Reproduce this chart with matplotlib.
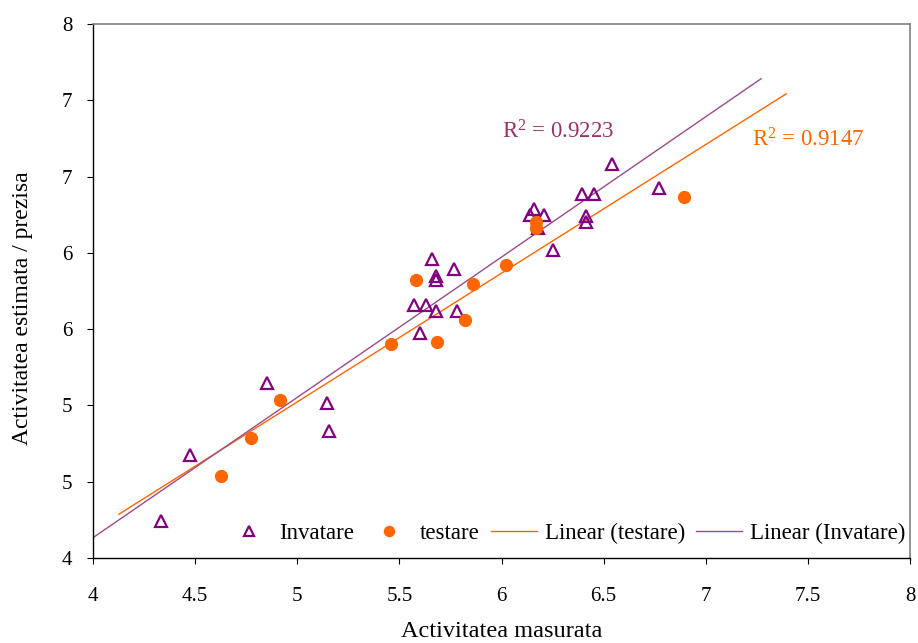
import matplotlib
matplotlib.use("Agg")
import matplotlib.pyplot as plt
import numpy as np
from matplotlib.ticker import FixedLocator, FuncFormatter

plt.rcParams['font.family'] = ['Liberation Serif', 'DejaVu Serif']
plt.rcParams['mathtext.fontset'] = 'custom'
plt.rcParams['mathtext.rm'] = 'Liberation Serif'
plt.rcParams['mathtext.it'] = 'Liberation Serif:italic'

# Invatare (training set): measured vs estimated
inv_x = [4.333, 4.475, 4.852, 5.146, 5.155, 5.572, 5.601, 5.630, 5.660, 5.679,
         5.679, 5.679, 5.767, 5.782, 6.140, 6.160, 6.179, 6.209, 6.252, 6.394,
         6.414, 6.414, 6.453, 6.541, 6.771]
inv_y = [4.277, 4.770, 5.308, 5.159, 4.950, 5.892, 5.682, 5.892, 6.236, 6.116,
         6.079, 5.847, 6.161, 5.847, 6.572, 6.617, 6.475, 6.572, 6.310, 6.729,
         6.564, 6.520, 6.729, 6.953, 6.774]

# testare (test set): measured vs predicted
tst_x = [4.627, 4.774, 4.916, 5.459, 5.581, 5.684, 5.821, 5.860, 6.022, 6.169,
         6.169, 6.894]
tst_y = [4.613, 4.897, 5.181, 5.600, 6.079, 5.615, 5.779, 6.056, 6.198, 6.520,
         6.475, 6.707]

r2_inv = "0.9223"
r2_tst = "0.9147"
forecast = 0.5

purple = '#800080'
purple_line = '#9B4A8C'
orange = '#FF6600'

fig = plt.figure(figsize=(9.18, 6.43), dpi=100)
ax = fig.add_axes([0.1013, 0.1322, 0.89, 0.8305])

ax.plot(inv_x, inv_y, linestyle='none', marker='^', markersize=9,
        markerfacecolor='none', markeredgecolor=purple, markeredgewidth=1.6,
        label='Invatare', zorder=3)
ax.plot(tst_x, tst_y, linestyle='none', marker='o', markersize=8.5,
        color=orange, label='testare', zorder=4)

# linear trendlines with forward/backward forecast
k, b = np.polyfit(tst_x, tst_y, 1)
xs = np.array([min(tst_x) - forecast, max(tst_x) + forecast])
ax.plot(xs, k * xs + b, color=orange, lw=1, label='Linear (testare)')

k2, b2 = np.polyfit(inv_x, inv_y, 1)
xs2 = np.array([max(4.0, min(inv_x) - forecast), max(inv_x) + forecast])
ax.plot(xs2, k2 * xs2 + b2, color=purple_line, lw=1, label='Linear (Invatare)')

ax.text(6.277, 7.193, "R$^2$ = " + r2_inv, color='#993366', fontsize=16.5,
        ha='center', va='center')
ax.text(7.50, 7.133, "R$^2$ = " + r2_tst, color=orange, fontsize=16.5,
        ha='center', va='center')

ax.set_xlim(4, 8)
ax.set_ylim(4, 8)
ax.set_xticks([4, 4.5, 5, 5.5, 6, 6.5, 7, 7.5, 8])
ax.xaxis.set_major_formatter(FuncFormatter(lambda v, p: f"{v:g}"))
ax.yaxis.set_major_locator(FixedLocator(np.linspace(4, 8, 8)))
ax.yaxis.set_major_formatter(FuncFormatter(lambda v, p: f"{v:.0f}"))
ax.tick_params(labelsize=15, length=4, direction='out', color='black')
ax.tick_params(axis='x', pad=17)
ax.tick_params(axis='y', pad=11)

for s in ['top', 'right']:
    ax.spines[s].set_color('#808080')
    ax.spines[s].set_linewidth(1.2)
for s in ['left', 'bottom']:
    ax.spines[s].set_color('black')
    ax.spines[s].set_linewidth(1.0)

ax.set_xlabel('Activitatea masurata', fontsize=17.5, labelpad=11)
ax.set_ylabel('Activitatea estimata / prezisa', fontsize=17)
ax.yaxis.set_label_coords(-0.0735, 0.467)

ax.legend(loc='lower right', bbox_to_anchor=(1.02, -0.0125), ncol=4,
          frameon=False, fontsize=16.5, handlelength=2.0, handletextpad=0.35,
          columnspacing=0.5, markerscale=0.85)

fig.savefig('out.png', dpi=100)
